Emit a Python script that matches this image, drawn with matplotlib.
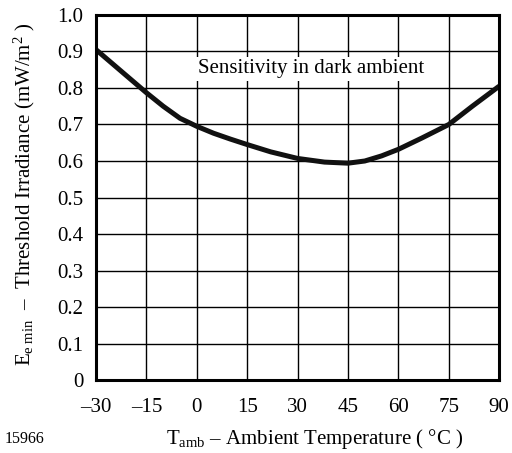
import matplotlib
matplotlib.use("Agg")
from matplotlib import pyplot as plt

# threshold irradiance vs ambient temperature
temp = [-30, -22, -15, -10, -5, 0, 5, 10, 15, 22, 30, 38, 45, 50, 55, 60, 67, 75, 82, 90]
e_min = [0.905, 0.842, 0.787, 0.75, 0.717, 0.695, 0.676, 0.66, 0.645, 0.625, 0.607, 0.597,
         0.594, 0.60, 0.614, 0.632, 0.663, 0.70, 0.75, 0.805]
xticks = [-30, -15, 0, 15, 30, 45, 60, 75, 90]
yticks = [0, 0.1, 0.2, 0.3, 0.4, 0.5, 0.6, 0.7, 0.8, 0.9, 1.0]
yticklabels = ["0", "0.1", "0.2", "0.3", "0.4", "0.5", "0.6", "0.7", "0.8", "0.9", "1.0"]
xticklabels = ["\u201330", "\u201315", "0", "15", "30", "45", "60", "75", "90"]

plt.rcParams['font.family'] = ['Liberation Serif', 'DejaVu Serif']
plt.rcParams['mathtext.fontset'] = 'custom'
plt.rcParams['mathtext.rm'] = 'Liberation Serif'
plt.rcParams['mathtext.it'] = 'Liberation Serif:italic'

fig = plt.figure(figsize=(5.12, 4.53), dpi=100)
ax = fig.add_axes([0.1875, 0.161, 0.7875, 0.806])

ax.plot(temp, e_min, color='#111111', linewidth=3.6, solid_capstyle='butt', zorder=4)

ax.set_xlim(-30, 90)
ax.set_ylim(0, 1.0)
ax.set_xticks(xticks)
ax.set_xticklabels(xticklabels)
ax.set_yticks(yticks)
ax.set_yticklabels(yticklabels)
ax.tick_params(length=0, labelsize=15)
ax.tick_params(axis='x', pad=13)
ax.tick_params(axis='y', pad=9)
ax.grid(True, color='black', linewidth=1.0)
ax.set_axisbelow(True)
for s in ax.spines.values():
    s.set_linewidth(2.2)
    s.set_zorder(5)

ax.text(34, 0.852, "Sensitivity in dark ambient", fontsize=15, ha='center', va='center',
        bbox=dict(facecolor='white', edgecolor='none', pad=2), zorder=3)

ylab = r"$\mathrm{E}_{\mathrm{e\ min}}$  " + "\u2013" + r"  Threshold Irradiance (mW/m$^2$ )"
xlab = r"$\mathrm{T}_{\mathrm{amb}}$ " + "\u2013 Ambient Temperature ( \u00b0C )"
fig.text(0.047, 0.57, ylab, rotation=90, ha='center', va='center', fontsize=15)
fig.text(0.615, 0.031, xlab, ha='center', va='center', fontsize=15)
fig.text(0.047, 0.031, "15966", ha='center', va='center', fontsize=11.5)

fig.savefig("out.png", dpi=100)
